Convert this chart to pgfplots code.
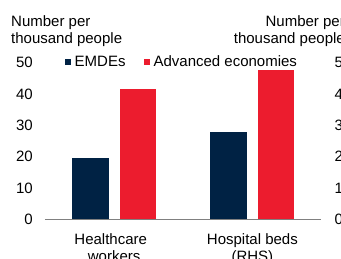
\documentclass[border=0pt]{standalone}
\usepackage{fontspec}
\setmainfont{Liberation Sans}
\usepackage{pgfplots}
\pgfplotsset{compat=1.18}
\definecolor{navy}{RGB}{0,34,68}
\definecolor{cred}{RGB}{236,28,46}
\definecolor{axgray}{RGB}{128,128,128}
\begin{document}
\fontsize{15}{17}\selectfont
\begin{tikzpicture}
\pgfplotsset{
 base/.style={
  scale only axis, width=276.5pt, height=157pt,
  at={(45pt,38.5pt)}, anchor=south west,
  xmin=-0.5, xmax=1.5, ymin=0,
  ybar, bar width=36.5pt,
  axis line style={draw=none},
  major tick length=0pt,
  tick label style={font=\fontsize{15}{17}\selectfont},
  /pgf/number format/assume math mode=true,
  clip=false,
 }
}
\begin{axis}[base, ymax=50, ytick={0,10,...,50}, xtick=\empty,
  yticklabel style={inner sep=0pt, xshift=-12pt},
  legend style={draw=none, fill=none, at={(rel axis cs:0.0725,1.003)}, anchor=west,
    inner sep=0pt, nodes={inner sep=3.5pt, font=\fontsize{15}{17}\selectfont},
    /tikz/every even column/.append style={column sep=15pt}},
  legend columns=2,
  legend image code/.code={\fill[#1] (0pt,-2.8pt) rectangle (6pt,2.8pt);}]
\addplot[fill=navy, draw=none, bar shift=-23.8pt] coordinates {(0,19.6)};
\addplot[fill=cred, draw=none, bar shift=23.8pt] coordinates {(0,41.6)};
\legend{EMDEs, Advanced economies}
\end{axis}
\begin{axis}[base, ymax=5, ytick={0,1,...,5}, yticklabel pos=right, ytick pos=right,
  yticklabel style={inner sep=0pt, xshift=13pt},
  xtick={0,1}, xticklabels={Healthcare\hspace*{6.8pt}\\workers, Hospital beds\\(RHS)},
  xticklabel style={align=center, inner sep=0pt, yshift=-14pt}]
\addplot[fill=navy, draw=none, bar shift=-23.8pt] coordinates {(1,2.8)};
\addplot[fill=cred, draw=none, bar shift=23.8pt] coordinates {(1,4.75)};
\draw[axgray, line width=0.8pt] (axis cs:-0.5,0) -- (axis cs:1.5,0);
\end{axis}
\node[anchor=north west, align=left, inner sep=0pt] at (11pt,242.5pt) {Number per\\thousand people};
\node[anchor=north east, align=right, inner sep=0pt] at (345pt,242.5pt) {Number per\\thousand people};
\pgfresetboundingbox
\useasboundingbox (0pt,0pt) rectangle (341pt,258pt);
\end{tikzpicture}
\end{document}
